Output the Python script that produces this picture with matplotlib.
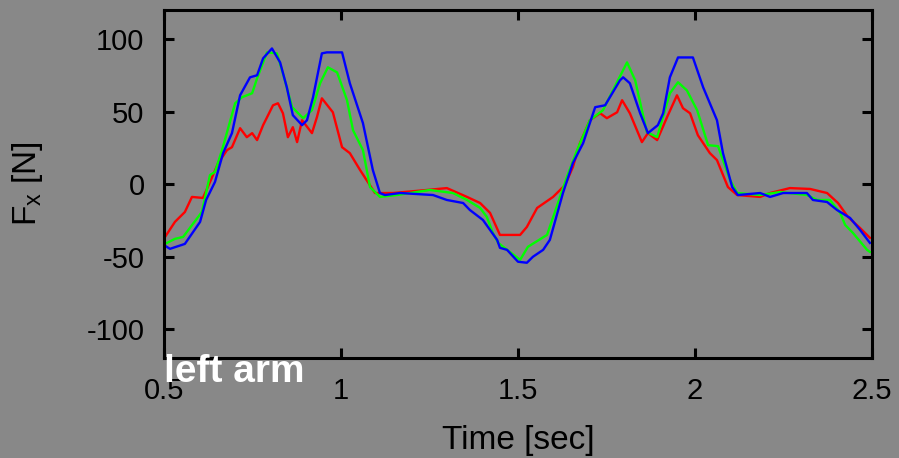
import matplotlib
matplotlib.use("Agg")
import matplotlib.pyplot as plt

plt.rcParams['font.family'] = ['Liberation Sans', 'DejaVu Sans']
plt.rcParams['mathtext.default'] = 'regular'
plt.rcParams['axes.unicode_minus'] = False

# force traces, Fx of the left arm
t_red = [0.503, 0.531, 0.559, 0.579, 0.610, 0.630, 0.653, 0.678, 0.692, 0.715,
         0.734, 0.749, 0.763, 0.780, 0.808, 0.822, 0.836, 0.850, 0.864, 0.876,
         0.890, 0.918, 0.932, 0.946, 0.977, 1.003, 1.025, 1.054, 1.096, 1.147,
         1.243, 1.299, 1.356, 1.393, 1.421, 1.449, 1.506, 1.525, 1.554, 1.599,
         1.633, 1.655, 1.675, 1.703, 1.732, 1.751, 1.780, 1.794, 1.816, 1.850,
         1.867, 1.893, 1.921, 1.949, 1.966, 1.986, 2.008, 2.042, 2.062, 2.093,
         2.119, 2.184, 2.212, 2.268, 2.325, 2.373, 2.404, 2.432, 2.466, 2.494]
f_red = [-36.5, -26.1, -19.3, -8.9, -9.6, 1.4, 14.4, 23.4, 25.4, 38.5,
         32.3, 35.1, 30.3, 40.6, 54.3, 55.7, 48.8, 32.3, 39.2, 28.9,
         44.0, 35.1, 46.1, 59.1, 49.5, 25.4, 21.3, 9.6, -6.2, -6.2,
         -4.1, -2.8, -8.9, -13.1, -19.9, -35.1, -35.1, -29.6, -16.5, -8.9,
         -0.7, 11.7, 28.2, 44.0, 48.8, 45.4, 49.5, 57.8, 48.8, 28.9,
         35.1, 30.3, 46.1, 61.2, 52.3, 48.8, 33.7, 21.3, 16.5, -2.1,
         -7.6, -8.9, -6.2, -2.8, -3.4, -6.2, -13.1, -22.7, -30.3, -37.1]

t_green = [0.503, 0.531, 0.554, 0.607, 0.630, 0.644, 0.664, 0.701, 0.720, 0.749,
           0.763, 0.791, 0.819, 0.836, 0.862, 0.893, 0.918, 0.941, 0.963, 0.989,
           1.017, 1.034, 1.062, 1.082, 1.110, 1.158, 1.251, 1.316, 1.356, 1.393,
           1.412, 1.429, 1.444, 1.506, 1.528, 1.582, 1.638, 1.667, 1.703, 1.740,
           1.768, 1.808, 1.831, 1.864, 1.893, 1.929, 1.952, 1.977, 2.006, 2.037,
           2.065, 2.099, 2.119, 2.184, 2.240, 2.316, 2.345, 2.381, 2.410, 2.424,
           2.446, 2.486, 2.494]
f_green = [-41.3, -37.8, -36.5, -19.3, 6.2, 8.3, 23.4, 55.7, 59.8, 62.6,
           72.9, 90.8, 90.1, 76.3, 53.0, 45.4, 50.9, 69.5, 80.5, 77.0,
           57.8, 37.1, 23.4, -2.1, -8.9, -7.6, -4.1, -6.2, -11.0, -16.5,
           -22.7, -33.7, -40.6, -52.3, -43.3, -35.1, 4.8, 23.4, 44.0, 50.9,
           64.6, 83.9, 71.5, 35.8, 32.3, 62.6, 70.2, 64.6, 50.9, 26.8,
           26.1, 2.8, -6.2, -7.6, -5.5, -7.6, -11.0, -11.0, -19.9, -28.2,
           -33.7, -45.4, -46.8]

t_blue = [0.503, 0.517, 0.559, 0.602, 0.619, 0.644, 0.667, 0.692, 0.715, 0.743,
          0.763, 0.780, 0.805, 0.828, 0.847, 0.864, 0.890, 0.904, 0.921, 0.946,
          0.960, 1.003, 1.025, 1.062, 1.090, 1.110, 1.124, 1.167, 1.260, 1.299,
          1.345, 1.364, 1.401, 1.441, 1.449, 1.469, 1.500, 1.525, 1.542, 1.571,
          1.590, 1.627, 1.655, 1.684, 1.718, 1.746, 1.788, 1.797, 1.816, 1.845,
          1.867, 1.895, 1.910, 1.929, 1.952, 1.994, 2.023, 2.062, 2.079, 2.105,
          2.121, 2.184, 2.212, 2.249, 2.316, 2.333, 2.373, 2.401, 2.438, 2.466,
          2.494]
f_blue = [-42.6, -44.7, -41.3, -26.1, -11.0, 1.4, 21.3, 35.1, 61.2, 73.6,
          75.0, 86.7, 93.5, 83.9, 66.7, 47.5, 40.6, 44.0, 59.8, 90.1,
          90.8, 90.8, 69.5, 42.0, 9.6, -6.2, -7.6, -6.2, -7.6, -11.0,
          -13.1, -17.9, -24.8, -38.5, -44.0, -45.4, -53.6, -54.3, -50.2, -45.4,
          -38.5, -6.2, 14.4, 28.2, 53.0, 54.3, 71.5, 73.6, 69.5, 48.8,
          35.1, 40.6, 48.8, 73.6, 87.3, 87.3, 66.7, 44.0, 21.3, -2.1,
          -7.6, -6.2, -8.9, -6.2, -6.2, -11.0, -12.4, -17.9, -23.4, -31.6,
          -40.6]

xticks = [0.5, 1, 1.5, 2, 2.5]
xticklabels = ['0.5', '1', '1.5', '2', '2.5']
yticks = [-100, -50, 0, 50, 100]

bg = '#888888'
fig = plt.figure(figsize=(8.99, 4.58), dpi=100, facecolor=bg)
ax = fig.add_axes([0.1824, 0.2183, 0.7876, 0.7598], facecolor=bg)

ax.plot(t_red, f_red, color='#ff0000', lw=1.7)
ax.plot(t_green, f_green, color='#00ff00', lw=1.7)
ax.plot(t_blue, f_blue, color='#0000ff', lw=1.7)

ax.set_xlim(0.5, 2.5)
ax.set_ylim(-120, 120)
ax.set_xticks(xticks)
ax.set_xticklabels(xticklabels)
ax.set_yticks(yticks)

for s in ax.spines.values():
    s.set_linewidth(2.2)
    s.set_color('black')
ax.tick_params(axis='both', direction='in', length=7.5, width=2.2,
               top=True, right=True, labelsize=21, colors='black')
ax.tick_params(axis='x', pad=14)
ax.tick_params(axis='y', pad=14)

ax.set_xlabel('Time [sec]', fontsize=24, labelpad=14)
ax.set_ylabel('F$_x$ [N]', fontsize=24, labelpad=30)

ax.text(0.0, -0.069, 'left arm', transform=ax.transAxes, color='white',
        fontsize=28, fontweight='bold', ha='left', va='baseline',
        clip_on=False, zorder=10)

fig.savefig('out.png', dpi=100, facecolor=bg)
